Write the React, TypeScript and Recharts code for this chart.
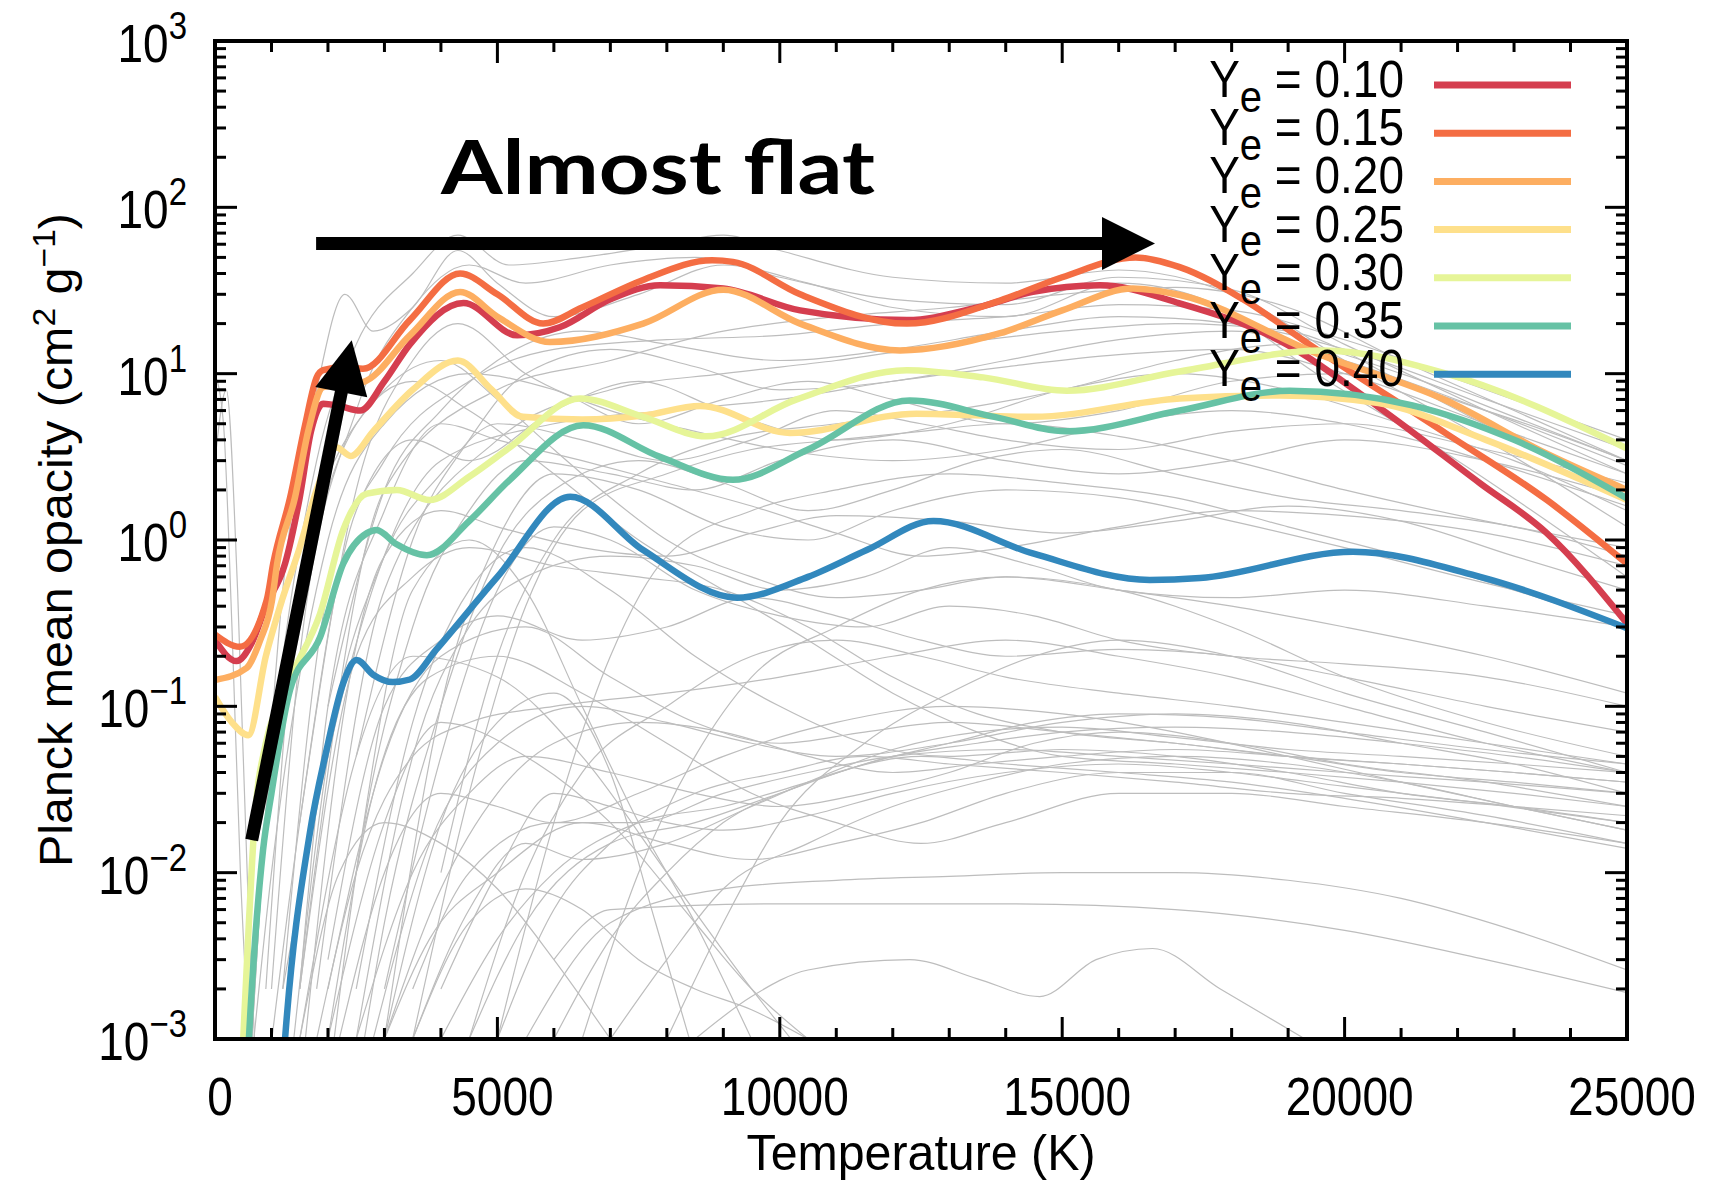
import React from 'react';
import { LineChart, Line, XAxis, YAxis, ReferenceLine } from 'recharts';

// plot box (px) - matches the gnuplot figure frame
const W = 1709;
const H = 1187;
const LEFT = 215;
const TOP = 41;
const RIGHT = 1627;
const BOTTOM = 1039;
const PW = RIGHT - LEFT;
const PH = BOTTOM - TOP;
const FONT = '"Liberation Sans", Arial, Helvetica, sans-serif';

// axis ticks
const X_MAJOR = [0, 5000, 10000, 15000, 20000, 25000];
const X_TICKS = [0, 1000, 2000, 3000, 4000, 5000, 6000, 7000, 8000, 9000, 10000, 11000, 12000,
  13000, 14000, 15000, 16000, 17000, 18000, 19000, 20000, 21000, 22000, 23000, 24000, 25000];
const Y_EXP = [-3, -2, -1, 0, 1, 2];
const Y_MINOR = [2, 3, 4, 5, 6, 7, 8, 9];
const Y_TICKS = [
  ...Y_EXP.flatMap((e) => [1, ...Y_MINOR].map((m) => Number((m * Math.pow(10, e)).toPrecision(6)))),
  1000,
];

// Ye labelled series: [T (K), opacity]
const YE_LABELS = ['0.10', '0.15', '0.20', '0.25', '0.30', '0.35', '0.40'];
const YE_COLORS = ['#d53e4f', '#f46d43', '#fdae61', '#fee08b', '#e6f598', '#66c2a5', '#3288bd'];

const YE10 = [[0, 0.25], [380, 0.187], [650, 0.24], [900, 0.4], [1240, 0.72], [1500, 1.8], [1700, 4.5],
  [1915, 6.6], [2200, 6.4], [2570, 6.0], [3000, 9], [3450, 15], [4400, 26.6], [5350, 17], [6100, 19],
  [7000, 28], [7880, 34], [9000, 32.5], [10360, 24], [12250, 21], [13500, 25], [14480, 31], [15670, 34],
  [17080, 26.5], [18850, 15.8], [20600, 6.3], [22400, 2.19], [23580, 1.1], [25000, 0.315]];
const YE15 = [[0, 0.27], [440, 0.228], [915, 0.435], [1030, 0.72], [1330, 1.8], [1600, 5], [1800, 9.5],
  [1915, 10.5], [2300, 11], [2620, 10.7], [3450, 21], [4340, 40], [5000, 30], [5810, 20], [6500, 25],
  [7580, 36.6], [8800, 48], [9170, 47], [10360, 30], [12250, 20], [13900, 27.5], [15000, 38], [16300, 50],
  [17080, 43.7], [18200, 28], [19440, 14.5], [21800, 4.36], [23580, 1.74], [25000, 0.72]];
const YE20 = [[0, 0.144], [560, 0.17], [800, 0.25], [1010, 0.435], [1100, 0.72], [1416, 1.8], [1650, 4.5],
  [1915, 8.3], [2620, 8.9], [3450, 17], [4340, 31], [5000, 22], [5930, 15.5], [7580, 20], [9000, 32],
  [10360, 20], [12130, 13.8], [13900, 17.5], [15000, 24], [16250, 32.5], [17080, 29.7], [19440, 13.5],
  [21800, 6.9], [23580, 3.3], [25000, 2.0]];
const YE25 = [[0, 0.114], [300, 0.08], [590, 0.067], [900, 0.2], [1186, 0.435], [1500, 0.9], [1800, 2],
  [2155, 3.6], [2400, 3.2], [2800, 4.5], [3500, 8], [4300, 12], [4900, 8], [5450, 5.5], [6500, 5.3],
  [7580, 5.6], [8590, 6.4], [10180, 4.4], [12420, 5.75], [14480, 5.5], [17080, 7.1], [18850, 7.4],
  [20600, 6.65], [22500, 4.0], [25000, 1.74]];
const YE30 = [[400, 0.0002], [500, 0.001], [600, 0.005], [700, 0.02], [900, 0.06], [1100, 0.1], [1415, 0.17],
  [1860, 0.36], [2270, 1.15], [2690, 1.9], [3220, 2.0], [3800, 1.74], [4500, 2.4], [5220, 3.6], [6460, 7.1],
  [7580, 5.5], [8700, 4.2], [10300, 7], [12250, 10.5], [13600, 9.5], [15080, 7.9], [17080, 10.3],
  [19620, 13.8], [21800, 10], [25000, 3.55]];
const YE35 = [[500, 0.0002], [600, 0.001], [850, 0.0136], [1000, 0.03], [1330, 0.126], [1860, 0.26],
  [2270, 0.72], [2690, 1.1], [2860, 1.15], [3200, 0.95], [3750, 0.81], [4500, 1.3], [5220, 2.3],
  [6520, 4.9], [7880, 3.16], [9170, 2.3], [10500, 3.5], [12300, 6.9], [13800, 5.5], [15080, 4.5],
  [17080, 6.0], [19030, 7.9], [21200, 6.45], [23000, 4.0], [25000, 1.78]];
const YE40 = [[1100, 0.0002], [1240, 0.001], [1680, 0.0174], [1977, 0.055], [2270, 0.138], [2508, 0.19],
  [2800, 0.155], [3150, 0.14], [3450, 0.145], [3920, 0.22], [5000, 0.6], [6290, 1.82], [7580, 0.87],
  [9240, 0.45], [10500, 0.6], [11540, 0.87], [12720, 1.3], [14480, 0.83], [16550, 0.575], [17440, 0.59],
  [20150, 0.85], [22400, 0.6], [25000, 0.295]];
const YE_SERIES = [YE10, YE15, YE20, YE25, YE30, YE35, YE40];

// thin grey background curves (other models), [T (K), opacity]
const GRAY_CURVES = [
  [[600, 0.0005], [1200, 0.5], [1800, 8], [2300, 30], [2800, 18], [3500, 25], [4300, 55], [5000, 35], [6000, 22], [7500, 30], [9000, 45], [10500, 35], [12000, 25], [14000, 22], [16000, 35], [17500, 28], [19500, 10], [22000, 3], [25000, 0.6]],
  [[500, 0.0005], [1000, 0.05], [1800, 3], [2500, 15], [3500, 40], [4300, 68], [5200, 45], [6500, 50], [8000, 60], [9000, 68], [10000, 55], [12000, 38], [14000, 35], [16000, 42], [18000, 30], [20000, 12], [22500, 4], [25000, 1.2]],
  [[1000, 0.002], [1500, 0.2], [2500, 6], [3500, 25], [4500, 45], [5500, 35], [7000, 45], [8500, 50], [10000, 38], [12000, 28], [14000, 26], [16000, 38], [18000, 32], [20000, 15], [22500, 6], [25000, 2.5]],
  [[1500, 0.002], [3000, 2], [5000, 8], [7000, 12], [9000, 18], [11000, 22], [13000, 25], [15000, 30], [17000, 33], [19000, 25], [21000, 12], [23000, 6], [25000, 3]],
  [[1200, 0.002], [2000, 0.5], [3000, 3], [4500, 9], [6000, 14], [8000, 16], [10000, 17], [12000, 20], [14000, 22], [16000, 26], [18000, 24], [20000, 16], [22500, 8], [25000, 4]],
  [[600, 0.0005], [1000, 0.01], [2000, 1], [3000, 5], [4500, 10], [6000, 8], [7500, 5], [9000, 7], [10500, 9], [12000, 7], [14000, 5], [16000, 6], [18000, 9], [20000, 10], [22500, 6], [25000, 3]],
  [[900, 0.0005], [1500, 0.02], [2500, 1.5], [3500, 4], [4500, 3], [6000, 6], [7500, 9], [9000, 6], [11000, 4], [13000, 5], [15000, 8], [17000, 10], [19000, 8], [21000, 5], [23000, 3], [25000, 1.5]],
  [[1300, 0.0005], [2000, 0.05], [3000, 0.8], [4000, 2.5], [5000, 5], [6500, 4], [8000, 3], [9500, 4], [11000, 6], [12500, 5], [14000, 4], [16000, 3.5], [18000, 4.5], [20000, 5], [22500, 3.5], [25000, 2.2]],
  [[2000, 0.0005], [2500, 0.01], [3500, 0.3], [4500, 1.5], [5500, 3], [7000, 2.5], [8500, 2], [10000, 3], [12000, 4], [14000, 3], [16000, 2.5], [18000, 3], [20000, 4], [22500, 3], [25000, 1.8]],
  [[2500, 0.0005], [3000, 0.005], [4000, 0.1], [5000, 0.8], [6000, 2], [7500, 3], [9000, 2.2], [10500, 1.5], [12000, 2], [13500, 3], [15000, 3.5], [17000, 2.5], [19000, 1.8], [21000, 1.5], [23000, 1.2], [25000, 0.8]],
  [[600, 0.0005], [1000, 0.05], [2000, 2], [3000, 8], [4000, 12], [5000, 7], [6000, 3.5], [7000, 1.8], [8000, 1], [9500, 0.6], [11000, 0.45], [12500, 0.5], [14000, 0.6], [16000, 0.5], [18000, 0.4], [20000, 0.3], [22500, 0.2], [25000, 0.12]],
  [[900, 0.002], [1500, 0.5], [2500, 5], [3500, 9], [4500, 6], [6000, 2.5], [7500, 1], [9000, 0.5], [10500, 0.25], [12000, 0.12], [13500, 0.07], [15000, 0.05], [17000, 0.045], [19000, 0.04], [21000, 0.035], [23000, 0.03], [25000, 0.025]],
  [[1500, 0.002], [2000, 0.1], [3000, 1.5], [4000, 5], [5000, 4], [6500, 3], [8000, 2.2], [9500, 1.6], [11000, 1.1], [12500, 0.8], [14000, 0.9], [16000, 1.2], [18000, 1.5], [20000, 1.4], [22500, 1.1], [25000, 0.7]],
  [[3500, 0.001], [4500, 0.03], [5500, 0.4], [6500, 1.5], [8000, 2.5], [9500, 3.5], [11000, 4], [12500, 4.5], [14000, 5], [16000, 4.2], [18000, 3], [20000, 2], [22500, 1.3], [25000, 0.9]],
  [[4000, 0.01], [5000, 0.2], [6000, 1], [7500, 2.5], [9000, 4], [11000, 5], [13000, 6], [15000, 8], [17000, 12], [19000, 15], [21000, 10], [23000, 5.5], [25000, 3]],
  [[2500, 0.001], [3500, 0.05], [4500, 0.3], [5500, 0.6], [7000, 0.8], [8500, 0.7], [10000, 0.5], [11500, 0.6], [13000, 0.9], [14500, 0.7], [16000, 0.5], [18000, 0.45], [20000, 0.5], [22500, 0.4], [25000, 0.3]],
  [[3000, 0.002], [4000, 0.05], [5000, 0.5], [6000, 1.2], [7000, 1], [8500, 0.5], [10000, 0.35], [11500, 0.3], [13000, 0.4], [14500, 0.35], [16000, 0.25], [18000, 0.2], [20000, 0.18], [22500, 0.15], [25000, 0.1]],
  [[1500, 0.002], [2500, 0.2], [3500, 0.6], [4500, 0.9], [6000, 0.7], [7500, 0.6], [9000, 0.5], [10500, 0.3], [12000, 0.15], [13500, 0.09], [15000, 0.07], [17000, 0.06], [19000, 0.05], [21000, 0.04], [23000, 0.035], [25000, 0.03]],
  [[2000, 0.003], [3000, 0.1], [4000, 0.25], [5000, 0.35], [6500, 0.25], [8000, 0.3], [9500, 0.45], [11000, 0.35], [12500, 0.25], [14000, 0.2], [16000, 0.22], [18000, 0.2], [20000, 0.15], [22500, 0.1], [25000, 0.07]],
  [[4000, 0.001], [5000, 0.004], [6000, 0.01], [7500, 0.02], [9000, 0.025], [10500, 0.035], [12000, 0.05], [13500, 0.06], [15000, 0.07], [17000, 0.075], [19000, 0.07], [21000, 0.06], [23000, 0.05], [25000, 0.04]],
  [[4500, 0.001], [5500, 0.005], [7000, 0.015], [8500, 0.02], [10000, 0.03], [11500, 0.045], [13000, 0.06], [14500, 0.08], [16000, 0.09], [18000, 0.085], [20000, 0.07], [22500, 0.055], [25000, 0.045]],
  [[3500, 0.002], [4500, 0.01], [6000, 0.02], [7500, 0.02], [9000, 0.03], [10500, 0.04], [12000, 0.05], [14000, 0.055], [16000, 0.05], [18000, 0.045], [20000, 0.04], [22500, 0.035], [25000, 0.03]],
  [[5000, 0.001], [6000, 0.006], [7000, 0.015], [8500, 0.03], [10000, 0.04], [11500, 0.05], [13000, 0.045], [15000, 0.04], [17000, 0.035], [19000, 0.03], [21000, 0.028], [23000, 0.025], [25000, 0.022]],
  [[6000, 0.001], [7000, 0.004], [8000, 0.01], [9000, 0.02], [10500, 0.035], [12000, 0.055], [13500, 0.07], [15000, 0.075], [17000, 0.065], [19000, 0.055], [21000, 0.05], [23000, 0.045], [25000, 0.04]],
  [[3000, 0.001], [4000, 0.008], [5000, 0.03], [6000, 0.06], [7500, 0.08], [9000, 0.07], [10500, 0.05], [12000, 0.04], [13500, 0.045], [15000, 0.05], [17000, 0.055], [19000, 0.05], [21000, 0.045], [23000, 0.04], [25000, 0.035]],
  [[2500, 0.001], [3500, 0.01], [4500, 0.03], [5500, 0.05], [7000, 0.04], [8500, 0.03], [10000, 0.025], [11500, 0.03], [13000, 0.04], [14500, 0.06], [16000, 0.07], [18000, 0.06], [20000, 0.045], [22500, 0.035], [25000, 0.025]],
  [[5500, 0.001], [7000, 0.005], [9000, 0.008], [11000, 0.009], [13000, 0.0095], [15000, 0.01], [17000, 0.01], [19000, 0.009], [21000, 0.007], [23000, 0.0045], [25000, 0.0026]],
  [[6000, 0.003], [7000, 0.006], [10000, 0.0065], [14000, 0.0065], [17000, 0.006], [20000, 0.0045], [22500, 0.003], [25000, 0.0019]],
  [[8500, 0.001], [9500, 0.0018], [10500, 0.0026], [12300, 0.003], [13500, 0.0023], [14600, 0.0018], [15600, 0.003], [16600, 0.0035], [17800, 0.002], [19300, 0.001]],
  [[1500, 0.001], [2500, 0.05], [3500, 0.2], [5000, 0.15], [6500, 0.05], [8000, 0.01], [9500, 0.002], [10200, 0.001]],
  [[2000, 0.001], [3000, 0.02], [4000, 0.08], [5500, 0.05], [7000, 0.02], [8500, 0.005], [9500, 0.002], [10500, 0.001]],
  [[3000, 0.001], [4000, 0.02], [5000, 0.08], [6000, 0.12], [7000, 0.04], [7800, 0.005], [8400, 0.001]],
  [[0, 10], [150, 5], [300, 0.3], [450, 0.01], [600, 0.001]],
  [[0, 3], [200, 8], [400, 0.5], [600, 0.005], [700, 0.001]],
  [[2000, 0.002], [3000, 0.05], [4000, 0.2], [5500, 0.3], [7000, 0.15], [8500, 0.08], [10000, 0.06], [11500, 0.07], [13000, 0.08], [15000, 0.07], [17000, 0.06], [19000, 0.05], [21000, 0.045], [23000, 0.04], [25000, 0.035]],
  [[2500, 0.002], [3500, 0.08], [4500, 0.5], [5500, 0.9], [7000, 0.5], [8500, 0.2], [10000, 0.1], [11500, 0.06], [13000, 0.05], [15000, 0.055], [17000, 0.05], [19000, 0.04], [21000, 0.03], [23000, 0.025], [25000, 0.02]],
  [[6500, 0.001], [7500, 0.01], [8500, 0.05], [9500, 0.15], [11000, 0.3], [12500, 0.5], [14000, 0.6], [16000, 0.5], [18000, 0.3], [20000, 0.15], [22500, 0.08], [25000, 0.05]],
  [[8000, 0.001], [9000, 0.005], [10000, 0.02], [11500, 0.06], [13000, 0.12], [14500, 0.2], [16000, 0.25], [18000, 0.2], [20000, 0.12], [22500, 0.07], [25000, 0.04]],
  [[1800, 0.002], [3000, 0.5], [5000, 4], [7000, 8], [9000, 10], [11000, 12], [13000, 15], [15000, 18], [17000, 20], [19000, 18], [21000, 9], [23000, 4], [25000, 1.8]],
  [[1200, 0.002], [2000, 0.05], [4000, 3], [6000, 5], [8000, 6], [10000, 7], [12000, 9], [14000, 11], [16000, 13], [18000, 14], [20000, 10], [22500, 5], [25000, 2.5]],
  [[1800, 0.001], [2500, 0.01], [3500, 0.05], [4500, 0.08], [6000, 0.1], [8000, 0.12], [10000, 0.15], [12000, 0.2], [14000, 0.25], [16000, 0.2], [18000, 0.15], [20000, 0.1], [22500, 0.06], [25000, 0.04]],
  [[2200, 0.001], [3000, 0.01], [4000, 0.03], [5000, 0.025], [6000, 0.02], [7500, 0.03], [9000, 0.05], [11000, 0.08], [13000, 0.1], [15000, 0.09], [17000, 0.07], [19000, 0.05], [21000, 0.035], [23000, 0.025], [25000, 0.018]],
  [[3500, 0.001], [4500, 0.006], [5500, 0.015], [6500, 0.012], [8000, 0.015], [9500, 0.025], [11000, 0.04], [12500, 0.05], [14000, 0.045], [16000, 0.04], [18000, 0.035], [20000, 0.028], [22500, 0.02], [25000, 0.014]],
  [[2800, 0.001], [3800, 0.015], [5000, 0.06], [6500, 0.1], [8000, 0.08], [9500, 0.06], [11000, 0.05], [13000, 0.06], [15000, 0.08], [17000, 0.09], [19000, 0.08], [21000, 0.06], [23000, 0.045], [25000, 0.03]],
  [[4500, 0.001], [5500, 0.01], [6500, 0.04], [8000, 0.1], [9500, 0.2], [11000, 0.25], [12500, 0.2], [14000, 0.15], [16000, 0.12], [18000, 0.1], [20000, 0.08], [22500, 0.06], [25000, 0.045]],
  [[2000, 0.001], [2800, 0.03], [3800, 0.15], [5000, 0.2], [6500, 0.12], [8000, 0.06], [9500, 0.03], [11000, 0.02], [12500, 0.015], [14000, 0.02], [16000, 0.03], [18000, 0.03], [20000, 0.025], [22500, 0.02], [25000, 0.015]],
  [[5000, 0.001], [6000, 0.02], [7000, 0.2], [8000, 0.8], [9500, 1.5], [11000, 2], [13000, 2.5], [15000, 2.2], [17000, 1.8], [19000, 1.2], [21000, 0.8], [23000, 0.5], [25000, 0.3]],
  [[3000, 0.001], [4000, 0.1], [5000, 1], [6000, 2.5], [7500, 2], [9000, 1.2], [10500, 1], [12000, 1.5], [14000, 2], [16000, 1.8], [18000, 1.3], [20000, 0.9], [22500, 0.55], [25000, 0.35]],
  [[1600, 0.001], [2300, 0.1], [3000, 0.8], [4000, 1.5], [5000, 1.2], [6500, 0.9], [8000, 0.8], [9500, 1.1], [11000, 1.4], [13000, 1.3], [15000, 1.1], [17000, 1.3], [19000, 1.6], [21000, 1.3], [23000, 0.8], [25000, 0.5]],
  [[2500, 0.05], [3500, 1], [4500, 4], [5500, 10], [7000, 14], [8500, 11], [10000, 8], [12000, 9], [14000, 12], [16000, 16], [18000, 18], [20000, 12], [22500, 6], [25000, 2.8]],
  [[2000, 0.1], [3000, 2], [4000, 6], [5000, 12], [6500, 18], [8000, 15], [10000, 12], [12000, 14], [14000, 18], [16000, 22], [18000, 20], [20000, 14], [22500, 7], [25000, 3.5]],
  [[1500, 0.02], [2500, 2], [3500, 12], [4300, 20], [5500, 10], [7000, 6], [8500, 4.5], [10000, 3.5], [12000, 3], [14000, 3.5], [16000, 5], [18000, 6], [20000, 5], [22500, 3], [25000, 1.6]],
  [[7000, 0.001], [8000, 0.003], [9000, 0.008], [10500, 0.015], [12000, 0.025], [13500, 0.035], [15000, 0.045], [17000, 0.05], [19000, 0.045], [21000, 0.035], [23000, 0.025], [25000, 0.018]],
  [[3000, 0.001], [3800, 0.004], [5000, 0.01], [6500, 0.02], [8000, 0.015], [9500, 0.012], [11000, 0.015], [12500, 0.02], [14000, 0.03], [16000, 0.04], [18000, 0.04], [20000, 0.03], [22500, 0.022], [25000, 0.015]],
  [[4000, 0.002], [5000, 0.01], [6000, 0.03], [7000, 0.025], [8000, 0.02], [9000, 0.018], [10500, 0.022], [12000, 0.03], [14000, 0.04], [16000, 0.045], [18000, 0.04], [20000, 0.033], [22500, 0.026], [25000, 0.02]],
  [[2500, 0.01], [3500, 0.5], [4500, 1], [5500, 0.5], [6500, 0.1], [7500, 0.02], [8500, 0.005], [9500, 0.001]],
  [[1500, 0.001], [2200, 0.01], [3000, 0.02], [4000, 0.015], [5000, 0.008], [6000, 0.003], [7000, 0.001]],
  [[3500, 0.001], [4500, 0.005], [5500, 0.008], [6500, 0.006], [7500, 0.003], [8500, 0.002], [9500, 0.0015], [10500, 0.001]],
];

// annotation arrows (data coordinates)
const FLAT_ARROW = [{ x: 1790, y: 60.7 }, { x: 16643, y: 60.7 }];
const RISE_ARROW = [{ x: 650, y: 0.0157 }, { x: 2420, y: 15.9 }];

const pts = (arr: number[][]) => arr.map(([t, v]) => ({ t, v }));

const arrowShape = (props: any) => {
  const { x1, y1, x2, y2 } = props;
  const head = 53;
  const headW = 53;
  const dx = x2 - x1;
  const dy = y2 - y1;
  const len = Math.hypot(dx, dy) || 1;
  const ux = dx / len;
  const uy = dy / len;
  const bx = x2 - ux * head;
  const by = y2 - uy * head;
  const px = -uy * headW / 2;
  const py = ux * headW / 2;
  return (
    <g>
      <line x1={x1} y1={y1} x2={bx + ux * 2} y2={by + uy * 2} stroke="#000" strokeWidth={13} />
      <polygon points={`${x2},${y2} ${bx + px},${by + py} ${bx - px},${by - py}`} fill="#000" />
    </g>
  );
};

const YTick = (props: any) => {
  const { y, payload } = props;
  const v = payload.value;
  const lg = Math.log10(v);
  const exp = Math.round(lg);
  const major = Math.abs(lg - exp) < 1e-6;
  const len = major ? 22 : 11;
  return (
    <g>
      <line x1={LEFT} x2={LEFT + len} y1={y} y2={y} stroke="#000" strokeWidth={3} />
      <line x1={RIGHT - len} x2={RIGHT} y1={y} y2={y} stroke="#000" strokeWidth={3} />
      {major && (
        <text transform={`translate(${LEFT - 28},${y + 21}) scale(1,1.15)`} textAnchor="end"
          fontFamily={FONT} fontSize={46} fill="#000">
          10<tspan fontSize={33} dy={-20}>{exp < 0 ? '\u2212' + -exp : String(exp)}</tspan>
        </text>
      )}
    </g>
  );
};

const XTick = (props: any) => {
  const { x, payload } = props;
  const major = X_MAJOR.includes(payload.value);
  const len = major ? 22 : 11;
  return (
    <g>
      <line x1={x} x2={x} y1={BOTTOM} y2={BOTTOM - len} stroke="#000" strokeWidth={3} />
      <line x1={x} x2={x} y1={TOP} y2={TOP + len} stroke="#000" strokeWidth={3} />
      {major && (
        <text transform={`translate(${x + 5},${BOTTOM + 76}) scale(1,1.15)`} textAnchor="middle"
          fontFamily={FONT} fontSize={46} fill="#000">
          {payload.value}
        </text>
      )}
    </g>
  );
};

const LEGEND_Y0 = 85;
const LEGEND_DY = 48.2;

export default function App() {
  return (
    <div style={{ position: 'absolute', left: 0, top: 0, width: W, height: H, background: '#fff', fontFamily: FONT }}>
      <LineChart width={W} height={H} margin={{ top: TOP, right: W - RIGHT, bottom: H - BOTTOM - 80, left: LEFT - 150 }}>
        <XAxis dataKey="t" type="number" domain={[0, 25000]} ticks={X_TICKS} interval={0}
          allowDataOverflow height={80} tickLine={false} tickSize={0} tickMargin={0}
          axisLine={false} tick={<XTick />} />
        <YAxis type="number" scale="log" domain={[0.001, 1000]} ticks={Y_TICKS} interval={0}
          allowDataOverflow width={150} tickLine={false} tickSize={0} tickMargin={0}
          axisLine={false} tick={<YTick />} />
        {GRAY_CURVES.map((c, i) => (
          <Line key={'g' + i} data={pts(c)} dataKey="v" type="monotone" stroke="#bdbdbd"
            strokeWidth={1.2} dot={false} activeDot={false} isAnimationActive={false} legendType="none" />
        ))}
        {YE_SERIES.map((s, i) => (
          <Line key={YE_LABELS[i]} name={YE_LABELS[i]} data={pts(s)} dataKey="v" type="monotone"
            stroke={YE_COLORS[i]} strokeWidth={6.5} dot={false} activeDot={false} isAnimationActive={false} />
        ))}
        <ReferenceLine segment={FLAT_ARROW} shape={arrowShape} />
        <ReferenceLine segment={RISE_ARROW} shape={arrowShape} />
      </LineChart>
      <svg width={W} height={H} style={{ position: 'absolute', left: 0, top: 0, pointerEvents: 'none' }}>
        <rect x={LEFT} y={TOP} width={PW} height={PH} fill="none" stroke="#000" strokeWidth={4} />
        <text x={441} y={194} fontFamily="Lato, 'Open Sans', sans-serif" fontWeight={700} fontSize={74}
          textLength={434} lengthAdjust="spacingAndGlyphs" fill="#000">Almost flat</text>
        {YE_LABELS.map((lab, i) => {
          const cy = LEGEND_Y0 + i * LEGEND_DY;
          return (
            <g key={lab}>
              <text transform={`translate(1404,${cy + 12}) scale(1,1.12)`} textAnchor="end" fontFamily={FONT}
                fontSize={46} fill="#000">
                Y<tspan fontSize={40} dy={13}>e</tspan><tspan dy={-13}>{' = ' + lab}</tspan>
              </text>
              <line x1={1434} x2={1571} y1={cy} y2={cy} stroke={YE_COLORS[i]} strokeWidth={7} />
            </g>
          );
        })}
        <text transform="translate(921,1170) scale(1,1.12)" textAnchor="middle" fontFamily={FONT} fontSize={44}
          textLength={349} lengthAdjust="spacingAndGlyphs" fill="#000">Temperature (K)</text>
        <text transform="translate(72,540) rotate(-90)" textAnchor="middle" fontFamily={FONT} fontSize={46}
          textLength={654} lengthAdjust="spacingAndGlyphs" fill="#000">
          Planck mean opacity (cm<tspan fontSize={32} dy={-17}>2</tspan><tspan dy={17}> g</tspan>
          <tspan fontSize={32} dy={-17}>{'\u22121'}</tspan><tspan dy={17}>)</tspan>
        </text>
      </svg>
    </div>
  );
}
